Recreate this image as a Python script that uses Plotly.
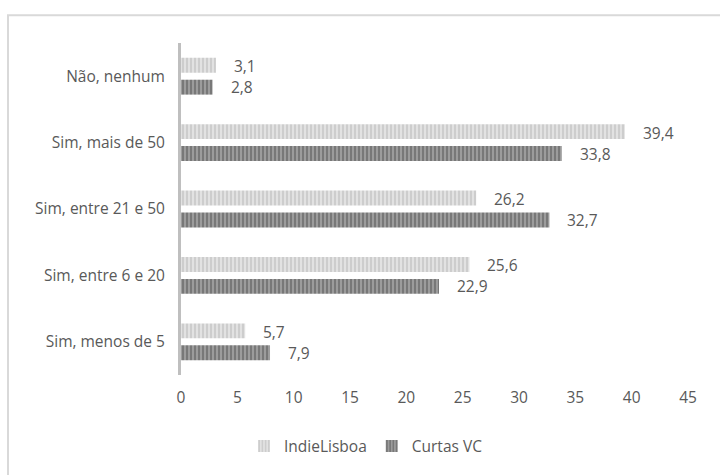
import plotly.graph_objects as go

categories = ["Não, nenhum", "Sim, mais de 50", "Sim, entre 21 e 50",
              "Sim, entre 6 e 20", "Sim, menos de 5"]
indielisboa = [3.1, 39.4, 26.2, 25.6, 5.7]
curtas_vc = [2.8, 33.8, 32.7, 22.9, 7.9]
x_ticks = [0, 5, 10, 15, 20, 25, 30, 35, 40, 45]

FONT = "Open Sans"
TXT = "#595959"
FS = 15.5

fig = go.Figure()
fig.add_trace(go.Bar(
    y=categories, x=indielisboa, orientation="h", name="IndieLisboa",
    marker=dict(color="#d8d8d8", line=dict(width=0),
                pattern=dict(shape="|", fgcolor="#b8b8b8", bgcolor="#e2e2e2",
                             size=4, solidity=0.5)),
))
fig.add_trace(go.Bar(
    y=categories, x=curtas_vc, orientation="h", name="Curtas VC",
    marker=dict(color="#777777", line=dict(width=0),
                pattern=dict(shape="|", fgcolor="#4f4f4f", bgcolor="#a0a0a0",
                             size=4, solidity=0.55)),
))

# value labels, comma decimal separator
for vals, shift in ((indielisboa, 10), (curtas_vc, -11)):
    for cat, v in zip(categories, vals):
        fig.add_annotation(
            x=v, y=cat, text=f"{v:.1f}".replace(".", ","),
            xanchor="left", yanchor="middle", xshift=16, yshift=shift,
            showarrow=False, font=dict(family=FONT, size=FS, color=TXT),
        )

# light frame around the chart area
fig.add_shape(type="rect", xref="paper", yref="paper",
              x0=(8 - 181) / 507, x1=1.2, y0=-0.5, y1=(377 - 15) / 334,
              line=dict(color="#d9d9d9", width=2), fillcolor="rgba(0,0,0,0)",
              layer="below")

fig.update_layout(
    width=720, height=475,
    margin=dict(l=181, r=32, t=43, b=98),
    paper_bgcolor="white", plot_bgcolor="white",
    barmode="group", bargap=0.34, bargroupgap=0.32,
    font=dict(family=FONT, size=FS, color=TXT),
    showlegend=True,
    legend=dict(orientation="h", x=(366 - 181) / 507, xanchor="center",
                y=-0.215, yanchor="middle",
                font=dict(family=FONT, size=FS, color=TXT),
                itemwidth=30, traceorder="normal"),
    xaxis=dict(range=[0, 45], tickvals=x_ticks, ticktext=[str(t) for t in x_ticks],
               showgrid=False, zeroline=False, showline=False, ticks="",
               ticklabelstandoff=11,
               tickfont=dict(family=FONT, size=FS, color=TXT)),
    yaxis=dict(autorange="reversed", categoryorder="array", categoryarray=categories,
               showgrid=False, zeroline=False, showline=True, linecolor="#bfbfbf",
               linewidth=3, ticks="", ticklabelstandoff=10,
               tickfont=dict(family=FONT, size=FS, color=TXT)),
)

fig.write_html("out.html")
